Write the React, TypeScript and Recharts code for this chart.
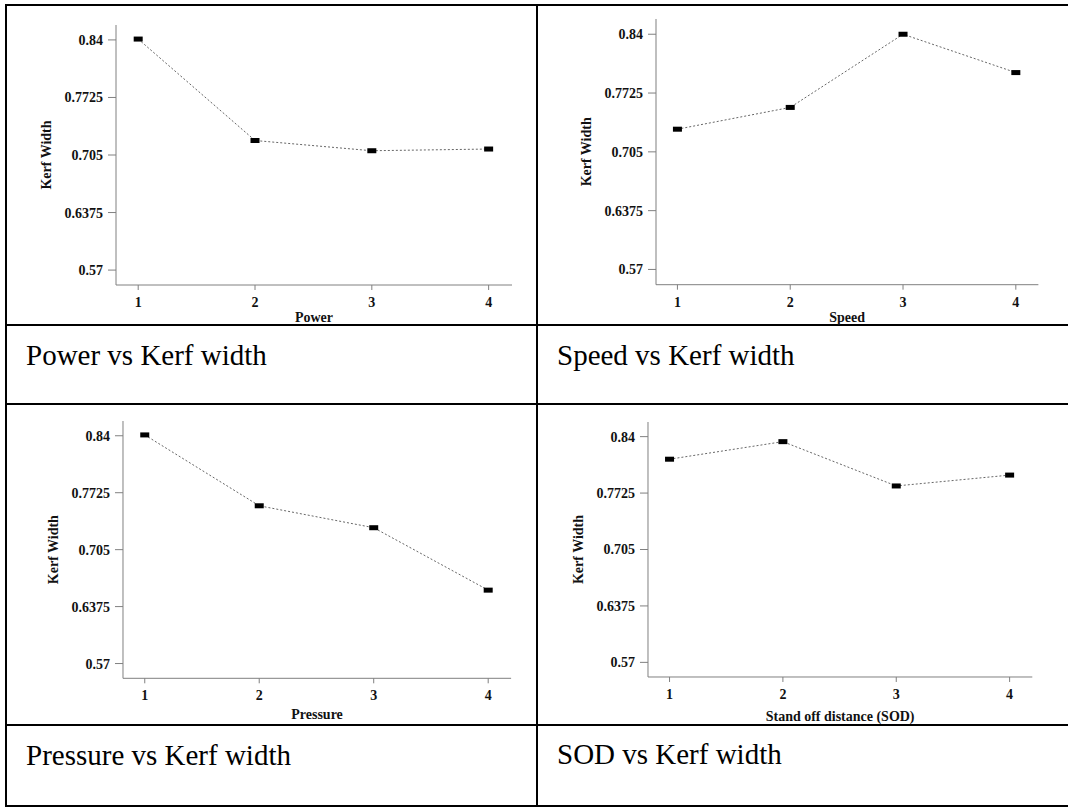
import { LineChart, Line, XAxis, YAxis } from 'recharts';

const levels = [1, 2, 3, 4];
const kerfTicks = [0.57, 0.6375, 0.705, 0.7725, 0.84];

const powerKerf = [0.841, 0.722, 0.71, 0.712];
const speedKerf = [0.731, 0.756, 0.84, 0.796];
const pressureKerf = [0.841, 0.757, 0.731, 0.657];
const sodKerf = [0.813, 0.834, 0.781, 0.794];

const xDomain: [number, number] = [0.81, 4.2];
const yDomain: [number, number] = [0.5525, 0.8575];

const serif = '"Liberation Serif", "Times New Roman", serif';
const axisGrey = '#808080';
const tickStyle = { fill: '#111', fontSize: 14, fontWeight: 'bold', fontFamily: serif };

const Y_AXIS_W = 80;
const X_AXIS_H = 50;
const M_TOP = 10;
const M_RIGHT = 10;

function renderMarker(props: any) {
  const { cx, cy, index } = props;
  if (cx == null || cy == null) return <g key={`m-${index}`} />;
  return <rect key={`m-${index}`} x={cx - 4.5} y={cy - 2.5} width={9} height={5} fill="#000" />;
}

interface PanelProps {
  values: number[];
  xTitle: string;
  plotLeft: number;
  plotTop: number;
  plotW: number;
  plotH: number;
  xTitleOffset: number;
}

function KerfPanel({ values, xTitle, plotLeft, plotTop, plotW, plotH, xTitleOffset }: PanelProps) {
  const data = levels.map((lv, i) => ({ level: lv, kerf: values[i] }));
  const w = plotW + Y_AXIS_W + M_RIGHT;
  const h = plotH + M_TOP + X_AXIS_H;
  return (
    <div style={{ position: 'absolute', left: plotLeft - Y_AXIS_W, top: plotTop - M_TOP, width: w, height: h }}>
      <LineChart width={w} height={h} data={data} margin={{ top: M_TOP, right: M_RIGHT, left: 0, bottom: 0 }}>
        <XAxis
          dataKey="level"
          type="number"
          domain={xDomain}
          ticks={levels}
          interval={0}
          height={X_AXIS_H}
          tickSize={5}
          tickMargin={7}
          stroke={axisGrey}
          tick={tickStyle}
          label={{ value: xTitle, position: 'insideBottom', offset: xTitleOffset, ...tickStyle }}
        />
        <XAxis xAxisId="top" orientation="top" type="number" domain={xDomain} height={0} tick={false} tickLine={false} stroke={axisGrey} />
        <YAxis
          type="number"
          domain={yDomain}
          ticks={kerfTicks}
          interval={0}
          width={Y_AXIS_W}
          tickSize={8}
          tickMargin={5}
          stroke={axisGrey}
          tick={tickStyle}
          label={{ value: 'Kerf Width', angle: -90, position: 'insideLeft', offset: 10, style: { textAnchor: 'middle' }, ...tickStyle }}
        />
        <YAxis yAxisId="right" orientation="right" type="number" domain={yDomain} width={0} tick={false} tickLine={false} stroke={axisGrey} />
        <Line
          dataKey="kerf"
          type="linear"
          stroke="#666"
          strokeWidth={1}
          strokeDasharray="2 2"
          dot={renderMarker}
          activeDot={false}
          isAnimationActive={false}
        />
      </LineChart>
    </div>
  );
}

function Rule({ x, y, w, h }: { x: number; y: number; w: number; h: number }) {
  return <div style={{ position: 'absolute', left: x, top: y, width: w, height: h, background: '#000' }} />;
}

function Caption({ text, x, y }: { text: string; x: number; y: number }) {
  return (
    <div style={{ position: 'absolute', left: x, top: y, fontFamily: serif, fontSize: 29, lineHeight: '30px', color: '#000', whiteSpace: 'nowrap' }}>
      {text}
    </div>
  );
}

export default function App() {
  return (
    <div style={{ position: 'absolute', left: 0, top: 0, width: 1068, height: 808, background: '#fff', overflow: 'hidden' }}>
      <Rule x={5} y={4} w={1063} h={2} />
      <Rule x={5} y={324} w={1063} h={2} />
      <Rule x={5} y={403} w={1063} h={2} />
      <Rule x={5} y={724} w={1063} h={2} />
      <Rule x={5} y={805} w={1063} h={2} />
      <Rule x={5} y={4} w={2} h={803} />
      <Rule x={536} y={4} w={2} h={803} />

      <KerfPanel values={powerKerf} xTitle="Power" plotLeft={116.4} plotTop={25} plotW={396} plotH={260} xTitleOffset={13} />
      <KerfPanel values={speedKerf} xTitle="Speed" plotLeft={655.6} plotTop={19.3} plotW={382.4} plotH={265.7} xTitleOffset={13} />
      <KerfPanel values={pressureKerf} xTitle="Pressure" plotLeft={123.3} plotTop={421} plotW={388.1} plotH={257.3} xTitleOffset={9} />
      <KerfPanel values={sodKerf} xTitle="Stand off distance (SOD)" plotLeft={648.4} plotTop={422.3} plotW={384.3} plotH={255} xTitleOffset={6} />

      <Caption text="Power vs Kerf width" x={26} y={340} />
      <Caption text="Speed vs Kerf width" x={557} y={340} />
      <Caption text="Pressure vs Kerf width" x={26} y={740} />
      <Caption text="SOD vs Kerf width" x={557} y={739} />
    </div>
  );
}
